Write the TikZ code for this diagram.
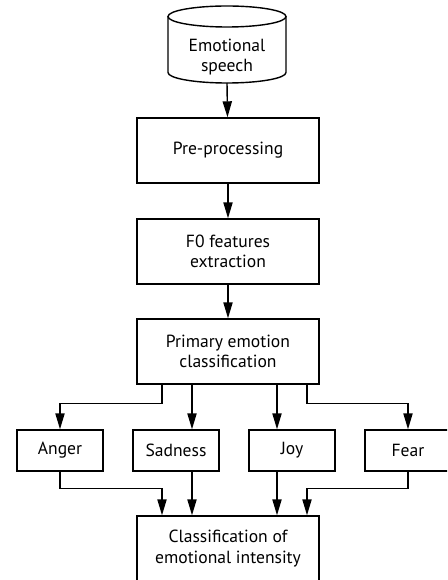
\documentclass[tikz,border=0pt]{standalone}
\usepackage{fontspec}
\setmainfont{PT Sans}
\usetikzlibrary{arrows.meta}

\begin{document}
\begin{tikzpicture}[
  txt/.style={align=center,font=\fontsize{12.5}{14.5}\selectfont},
  box/.style={txt,draw,line width=1pt,minimum width=4.55cm,minimum height=1.625cm},
  emobox/.style={box,minimum width=2.15cm,minimum height=1.025cm},
  flow/.style={line width=1pt,-{Triangle[length=4mm,width=2.3mm]}}]
\useasboundingbox (0,0) rectangle (11.175,-14.5);
\clip (0,0) rectangle (11.175,-14.5);
% source (drum outline drawn by hand)
\draw[line width=1pt] (5.675,-0.4125) ellipse [x radius=1.475, y radius=0.2625];
\draw[line width=1pt] (4.2,-0.4125) -- (4.2,-1.8125)
  arc[start angle=180, end angle=360, x radius=1.475, y radius=0.2625] -- (7.15,-0.4125);
\node[txt] (speech) at (5.675,-1.42) {Emotional\\speech};
\coordinate (speechbot) at (5.675,-2.075);
% main chain
\node[box] (prep) at (5.7,-3.7625) {Pre-processing};
\node[box] (feat) at (5.7,-6.2875) {F0 features\\extraction};
\node[box] (primary) at (5.7,-8.7875) {Primary emotion\\classification};
% emotion classes
\node[emobox] (anger) at (1.5,-11.2625) {Anger};
\node[emobox] (sadness) at (4.4,-11.2625) {Sadness};
\node[emobox] (joy) at (7.3,-11.2625) {Joy};
\node[emobox] (fear) at (10.2,-11.2625) {Fear};
\node[box] (intensity) at (5.7,-13.7125) {Classification of\\emotional intensity};
\draw[flow] (speechbot) -- (prep);
\draw[flow] (prep) -- (feat);
\draw[flow] (feat) -- (primary);
\draw[flow] ([xshift=-1.65cm]primary.south) -- ++(0,-0.475) -| (anger.north);
\draw[flow] ([xshift=-0.9cm]primary.south) -- ([xshift=-0.9cm]primary.south |- sadness.north);
\draw[flow] ([xshift=1.225cm]primary.south) -- ([xshift=1.225cm]primary.south |- joy.north);
\draw[flow] ([xshift=1.975cm]primary.south) -- ++(0,-0.475) -| (fear.north);
\draw[flow] (anger.south) -- ++(0,-0.425) -| ([xshift=-1.65cm]intensity.north);
\draw[flow] ([xshift=-0.9cm]intensity.north |- sadness.south) -- ([xshift=-0.9cm]intensity.north);
\draw[flow] ([xshift=1.225cm]intensity.north |- joy.south) -- ([xshift=1.225cm]intensity.north);
\draw[flow] (fear.south) -- ++(0,-0.425) -| ([xshift=1.975cm]intensity.north);
\end{tikzpicture}
\end{document}
